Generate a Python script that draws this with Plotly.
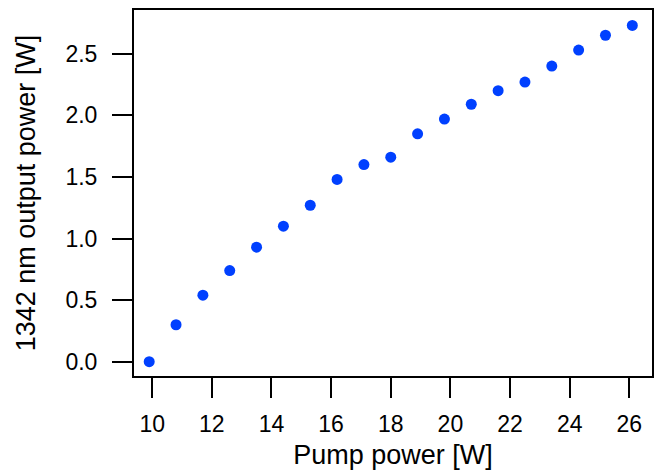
import plotly.graph_objects as go

pump_power = [9.9, 10.8, 11.7, 12.6, 13.5, 14.4, 15.3, 16.2, 17.1, 18.0,
              18.9, 19.8, 20.7, 21.6, 22.5, 23.4, 24.3, 25.2, 26.1]
output_power = [0.0, 0.30, 0.54, 0.74, 0.93, 1.10, 1.27, 1.48, 1.60, 1.66,
                1.85, 1.97, 2.09, 2.20, 2.27, 2.40, 2.53, 2.65, 2.73]
x_ticks = [10, 12, 14, 16, 18, 20, 22, 24, 26]
y_ticks = [0.0, 0.5, 1.0, 1.5, 2.0, 2.5]
y_tick_labels = ["0.0", "0.5", "1.0", "1.5", "2.0", "2.5"]

FONT = "Liberation Sans"

fig = go.Figure(go.Scatter(
    x=pump_power, y=output_power, mode="markers",
    marker=dict(color="#0040FF", size=11, line=dict(width=0)),
))

fig.update_layout(
    width=655, height=470,
    margin=dict(l=134, r=3, t=10, b=94),
    paper_bgcolor="white", plot_bgcolor="white",
    showlegend=False,
    font=dict(family=FONT, size=23, color="black"),
)
fig.update_xaxes(
    range=[9.39, 26.76], tickvals=x_ticks, ticks="outside", ticklen=20,
    tickwidth=2, tickcolor="black", showline=True, linewidth=2, linecolor="black",
    mirror=True, showgrid=False, zeroline=False, automargin=False,
    ticklabelstandoff=6,
    minor=dict(tickvals=x_ticks, ticks="outside", ticklen=20, tickwidth=2,
               tickcolor="black", showgrid=False),
    title=dict(text="Pump power [W]", standoff=11, font=dict(size=27)),
)
fig.update_yaxes(
    range=[-0.116, 2.855], tickvals=y_ticks, ticktext=y_tick_labels, ticks="outside",
    ticklen=20, tickwidth=2, tickcolor="black", showline=True, linewidth=2,
    linecolor="black", mirror=True, showgrid=False, zeroline=False, automargin=False,
    ticklabelstandoff=10,
    title=dict(text="1342 nm output power [W]", standoff=22, font=dict(size=27)),
)

fig.write_html("out.html", config={"displayModeBar": False},
               post_script="document.body.style.margin='0';")
